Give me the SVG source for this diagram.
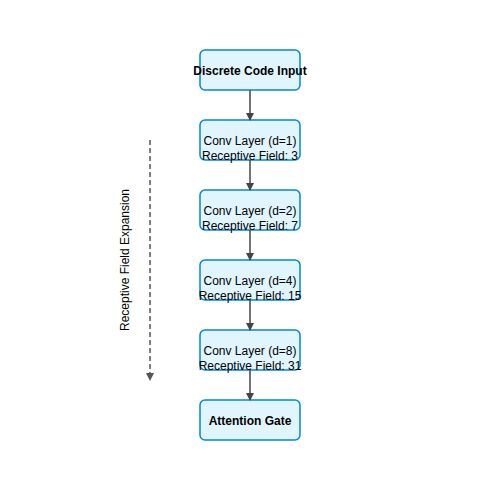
<svg xmlns="http://www.w3.org/2000/svg" width="500" height="500" viewBox="0 0 500 500">
<defs>
<marker id="ah" markerWidth="8" markerHeight="8" refX="7" refY="4" orient="auto" markerUnits="userSpaceOnUse">
<path d="M0,0 L8,4 L0,8 Z" fill="#444"/>
</marker>
<marker id="ahg" markerWidth="8" markerHeight="8" refX="7" refY="4" orient="auto" markerUnits="userSpaceOnUse">
<path d="M0,0 L8,4 L0,8 Z" fill="#555"/>
</marker>
<style>
.box{fill:#e1f5fe;stroke:#0288d1;stroke-width:1.5}
.t{font-family:"Liberation Sans",Arial,sans-serif;font-size:12px;fill:#000;text-anchor:middle}
.b{font-weight:bold}
.c{stroke:#444;stroke-width:1.5;fill:none;marker-end:url(#ah)}
</style>
</defs>
<rect width="500" height="500" fill="#fff"/>
<g id="nodes">
<g id="n0"><rect class="box" x="200" y="50" width="100" height="40" rx="5"/><text class="t b" x="250" y="75">Discrete Code Input</text></g>
<g id="n1"><rect class="box" x="200" y="120" width="100" height="40" rx="5"/><text class="t" x="250" y="145">Conv Layer (d=1)</text><text class="t" x="250" y="160">Receptive Field: 3</text></g>
<g id="n2"><rect class="box" x="200" y="190" width="100" height="40" rx="5"/><text class="t" x="250" y="215">Conv Layer (d=2)</text><text class="t" x="250" y="230">Receptive Field: 7</text></g>
<g id="n3"><rect class="box" x="200" y="260" width="100" height="40" rx="5"/><text class="t" x="250" y="285">Conv Layer (d=4)</text><text class="t" x="250" y="300">Receptive Field: 15</text></g>
<g id="n4"><rect class="box" x="200" y="330" width="100" height="40" rx="5"/><text class="t" x="250" y="355">Conv Layer (d=8)</text><text class="t" x="250" y="370">Receptive Field: 31</text></g>
<g id="n5"><rect class="box" x="200" y="400" width="100" height="40" rx="5"/><text class="t b" x="250" y="425">Attention Gate</text></g>
</g>
<g id="connectors">
<line class="c" x1="250" y1="90" x2="250" y2="120"/>
<line class="c" x1="250" y1="160" x2="250" y2="190"/>
<line class="c" x1="250" y1="230" x2="250" y2="260"/>
<line class="c" x1="250" y1="300" x2="250" y2="330"/>
<line class="c" x1="250" y1="370" x2="250" y2="400"/>
<line x1="150" y1="140" x2="150" y2="380" stroke="#555" stroke-width="1.5" stroke-dasharray="5,3" marker-end="url(#ahg)"/>
</g>
<text class="t" transform="translate(129,260) rotate(-90)">Receptive Field Expansion</text>
</svg>
